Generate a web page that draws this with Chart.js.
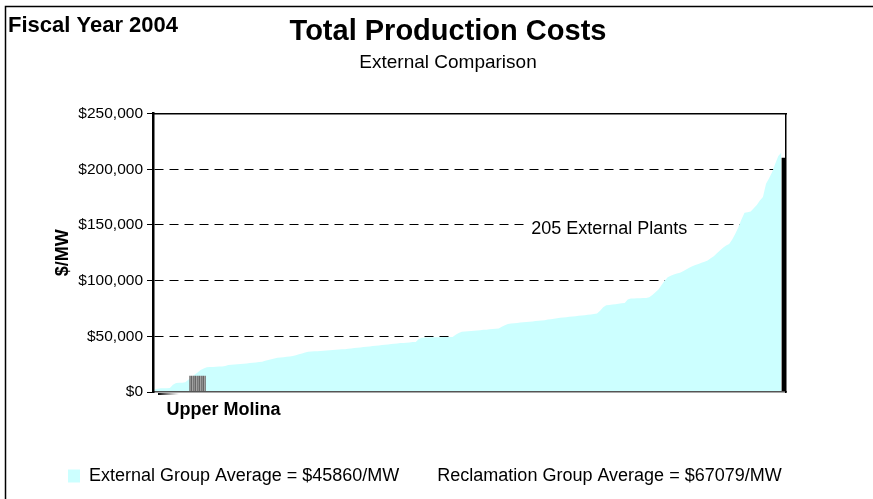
<!DOCTYPE html>
<html lang="en">
<head>
<meta charset="UTF-8"/>
<title>Total Production Costs</title>
<script src="https://cdn.jsdelivr.net/npm/chart.js"></script>
<style>
  html, body { margin: 0; padding: 0; background: #fff; }
</style>
</head>
<body>
<canvas id="costChart" width="873" height="499"></canvas>
<script>
// 205 external plants, sorted low to high ($/MW)
const externalCosts = [
  2500, 3000, 3300, 3300, 3300, 3500, 6500, 8000, 8300, 8400, 8800,
  11000, 13200, 15400, 17600, 19700, 21000, 22200,
  22400, 22500, 22600, 22800, 23000, 23300,
  24200, 24400, 24700, 25000, 25200, 25400, 25700, 26000, 26300, 26600, 26900, 27200,
  28000, 28800, 29500, 30100, 30700,
  31000, 31300, 31600, 31900, 32300,
  33000, 33800, 34600, 35400, 36100,
  36300, 36500, 36700, 36900, 37100, 37300, 37500, 37700, 37900, 38100, 38300, 38500, 38800, 39100,
  39400, 39700, 40000, 40300, 40600, 40900, 41200, 41500, 41800, 42100, 42400, 42700, 43000, 43300,
  43600, 43900, 44100, 44300, 44500, 44800, 45000,
  47500, 48800, 49000, 49000, 49100, 49100, 49200, 49200, 49300, 49300, 49400, 49500,
  51500, 53000, 54000,
  54300, 54600, 54800, 55000, 55300, 55500,
  55800, 56000, 56300, 56500, 56800, 57000,
  58500, 60000, 61000, 61500,
  61700, 62000, 62300, 62600, 62800, 63100, 63400, 63700, 64000, 64200, 64500,
  65000, 65400, 65800, 66200, 66600, 66900,
  67200, 67500, 67800, 68100, 68400, 68700, 69000, 69300, 69700, 70100, 70500,
  73000, 76000, 78000,
  78200, 78500, 78800, 79200, 79600, 80000,
  83000, 84000, 84000, 84100, 84200, 84300, 84500, 85000,
  87000, 89500, 92000,
  96000, 100000, 103000,
  104500, 105500, 106500, 107000,
  108500, 110000, 111500, 113000,
  114000, 115000, 116000, 117000, 118000,
  120000, 122000, 124500, 127000, 129500, 131500, 133000,
  137000, 142000, 148000,
  155000, 161000, 161500, 162000,
  165000, 168000, 172000, 175000,
  187000, 192000,
  197500, 205000, 212000, 215000
];
const plantLabels = externalCosts.map((v, i) => 'Plant ' + (i + 1)).concat(['Reclamation']);

const upperMolinaLabel = 'Upper Molina';
const upperMolinaIndex = 14;
const upperMolinaCost = 14300;
const edgeBarIndex = 205;
const edgeBarCost = 210000;

const yMax = 250000;
const yStep = 50000;

const fiscalLabel = 'Fiscal Year 2004';
const chartTitle = 'Total Production Costs';
const chartSubtitle = 'External Comparison';
const plantsNote = '205 External Plants';
const legendTexts = ['External Group Average = $45860/MW', 'Reclamation Group Average = $67079/MW'];

const molinaData = plantLabels.map((l, i) => i === upperMolinaIndex ? upperMolinaCost : null);
const edgeData = plantLabels.map((l, i) => i === edgeBarIndex ? edgeBarCost : null);

Chart.defaults.font.family = '"Liberation Sans", Arial, sans-serif';
Chart.defaults.color = '#000';

const canvas = document.getElementById('costChart');
const ctx = canvas.getContext('2d');

// grey striped fill for the highlighted plant
const sc = document.createElement('canvas');
sc.width = 4; sc.height = 1;
const sx = sc.getContext('2d');
['#a3a3a3', '#777777', '#8e8e8e', '#666666'].forEach((c, i) => { sx.fillStyle = c; sx.fillRect(i, 0, 1, 1); });
const stripes = ctx.createPattern(sc, 'repeat');

const decorPlugin = {
  id: 'decor',
  afterDraw(chart) {
    const c = chart.ctx;
    c.save();
    // outer frame (top and left)
    c.strokeStyle = '#000';
    c.lineWidth = 1.5;
    c.beginPath();
    c.moveTo(5.5, chart.height);
    c.lineTo(5.5, 6.5);
    c.lineTo(chart.width, 6.5);
    c.stroke();

    c.fillStyle = '#000';
    c.textBaseline = 'middle';
    c.font = 'bold 22px "Liberation Sans", Arial, sans-serif';
    c.fillText(fiscalLabel, 8, 26);

    // little shadow under the first plants
    const sg = c.createLinearGradient(chart.chartArea.left + 5, 0, chart.chartArea.left + 26, 0);
    sg.addColorStop(0, '#000');
    sg.addColorStop(1, 'rgba(90,90,90,0)');
    c.fillStyle = sg;
    c.fillRect(chart.chartArea.left + 5, chart.chartArea.bottom + 1, 21, 2);

    // note over the 150k gridline
    const x = chart.scales.x.getPixelForValue(148);
    const y = chart.scales.y.getPixelForValue(146500);
    c.font = '18px "Liberation Sans", Arial, sans-serif';
    const w = c.measureText(plantsNote).width;
    c.fillStyle = '#fff';
    c.fillRect(x - w / 2 - 6, y - 11, w + 12, 22);
    c.fillStyle = '#000';
    c.textAlign = 'center';
    c.fillText(plantsNote, x, y);
    c.restore();
  }
};

new Chart(ctx, {
  type: 'bar',
  data: {
    labels: plantLabels,
    datasets: [
      {
        label: upperMolinaLabel,
        data: molinaData,
        backgroundColor: stripes,
        barThickness: 16,
        grouped: false,
        order: 0
      },
      {
        label: 'Reclamation',
        data: edgeData,
        backgroundColor: '#000',
        barThickness: 5,
        grouped: false,
        order: 1
      },
      {
        type: 'line',
        label: 'External Plants',
        data: externalCosts,
        fill: 'origin',
        backgroundColor: '#ccffff',
        borderColor: 'rgba(0,0,0,0)',
        borderWidth: 0,
        pointRadius: 0,
        tension: 0,
        order: 2
      }
    ]
  },
  options: {
    responsive: false,
    animation: false,
    layout: { padding: { top: 0, left: 51, right: 28, bottom: 4 } },
    scales: {
      x: {
        offset: true,
        grid: { display: false, drawTicks: false },
        border: { color: '#555', width: 1.5, z: 1 },
        ticks: {
          autoSkip: false, maxRotation: 0, minRotation: 0,
          padding: 7, labelOffset: 26,
          font: { size: 18, weight: 'bold' },
          callback: (v, i) => i === upperMolinaIndex ? upperMolinaLabel : ''
        },
        afterFit: s => { s.height = 58; }
      },
      x2: {
        position: 'top',
        grid: { display: false, drawTicks: false },
        ticks: { display: false },
        border: { color: '#000', width: 1.5, z: 1 },
        afterFit: s => { s.height = 0; }
      },
      y: {
        min: 0,
        max: yMax,
        ticks: {
          stepSize: yStep,
          padding: 4,
          font: { size: 15.5 },
          callback: v => '$' + v.toLocaleString('en-US')
        },
        grid: {
          color: c => (c.tick.value === 0 || c.tick.value === yMax) ? 'rgba(0,0,0,0)' : '#000',
          lineWidth: 1,
          tickLength: 6,
          tickColor: '#000',
          tickWidth: 1,
          tickBorderDash: []
        },
        border: { color: '#000', width: 2.5, dash: [9, 6], z: 1 },
        title: {
          display: true,
          text: '$/MW',
          font: { size: 18, weight: 'bold' },
          padding: { top: 1, bottom: 0 }
        },
        afterFit: s => { s.width = 102; }
      },
      y2: {
        position: 'right',
        min: 0,
        max: yMax,
        grid: { display: false, drawTicks: false },
        ticks: { display: false },
        border: { color: '#000', width: 1.5, z: 1 },
        afterFit: s => { s.width = 59; }
      }
    },
    plugins: {
      title: {
        display: true,
        text: chartTitle,
        font: { size: 29, weight: 'bold' },
        padding: { top: 15, bottom: 0 }
      },
      subtitle: {
        display: true,
        text: chartSubtitle,
        font: { size: 19 },
        padding: { top: 2, bottom: 39 }
      },
      legend: {
        position: 'bottom',
        align: 'start',
        labels: {
          boxWidth: 12,
          boxHeight: 13,
          padding: 17,
          font: { size: 18 },
          generateLabels: () => legendTexts.map((t, i) => ({
            text: t,
            fillStyle: i === 0 ? '#ccffff' : 'rgba(0,0,0,0)',
            strokeStyle: 'rgba(0,0,0,0)',
            lineWidth: 0,
            hidden: false,
            datasetIndex: i
          }))
        },
        onClick: () => {}
      },
      tooltip: { enabled: false }
    }
  },
  plugins: [decorPlugin]
});
</script>
</body>
</html>
